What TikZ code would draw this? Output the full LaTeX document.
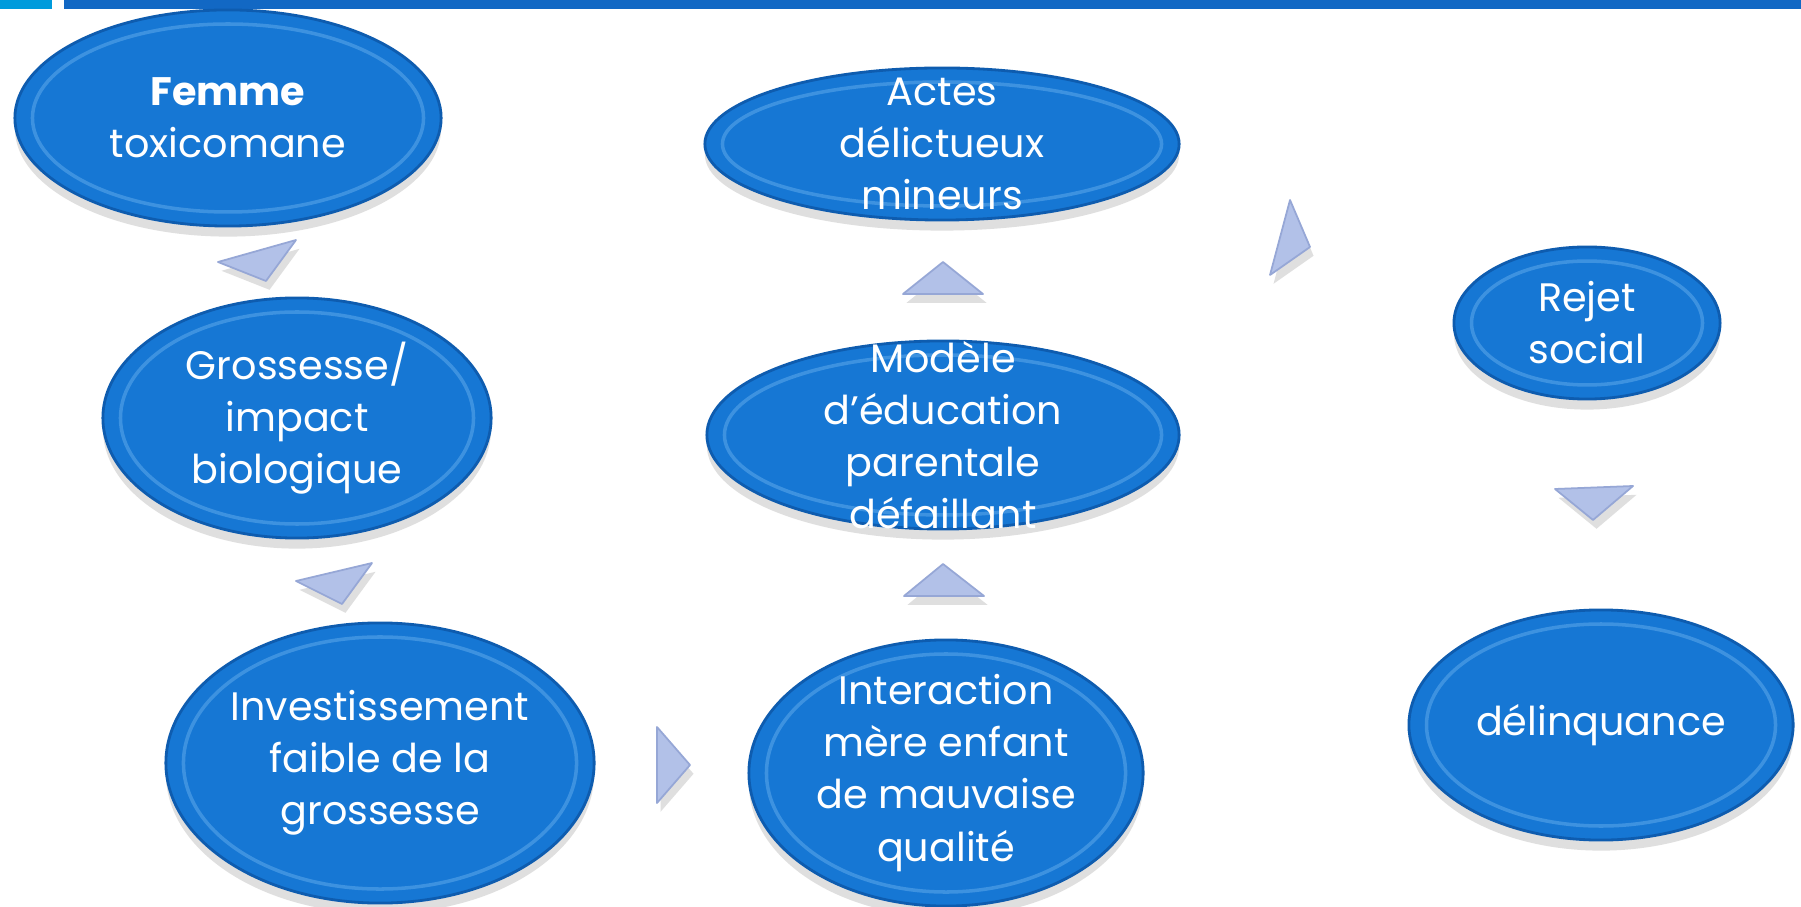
\documentclass[tikz,border=0pt]{standalone}
\usepackage{fontspec}
\setmainfont{Poppins}
\usetikzlibrary{shapes.geometric,shadows,calc}
\definecolor{bleuBulle}{RGB}{22,119,212}
\definecolor{bordBulle}{RGB}{14,92,175}
\definecolor{refletBulle}{RGB}{110,180,240}
\definecolor{bleuFleche}{RGB}{178,193,232}
\definecolor{bordFleche}{RGB}{150,167,214}
\definecolor{barreClaire}{RGB}{0,155,220}
\definecolor{barreFoncee}{RGB}{18,104,196}
\tikzset{
	bulle/.style={ellipse,fill=bleuBulle,draw=bordBulle,line width=0.8pt,inner sep=0pt,
		drop shadow={shadow xshift=0pt,shadow yshift=-3pt,opacity=0.25},
		path picture={\draw[refletBulle,line width=1pt,opacity=0.45]
			let \p1=($(path picture bounding box.north east)-(path picture bounding box.center)$) in
			(path picture bounding box.center) ellipse [x radius=\x1-5pt,y radius=\y1-4pt];}},
	texte/.style={text=white,align=center,font=\fontsize{11.3pt}{14.8pt}\selectfont},
	fleche/.style={fill=bleuFleche,draw=bordFleche,line width=0.5pt,line join=round,
		drop shadow={shadow xshift=1pt,shadow yshift=-2.5pt,opacity=0.25}}
}
\begin{document}
\begin{tikzpicture}[x=0.01cm,y=-0.01cm]
			\useasboundingbox[fill=white] (0,0) rectangle (1801,907);
			% barre du haut
			\fill[barreClaire] (0,0) rectangle (52,9);
			\fill[barreFoncee] (64,0) rectangle (1801,9);
			% bulles
			\node[bulle,minimum width=4.26cm,minimum height=2.16cm] (femme) at (228,118) {};
			\node[bulle,minimum width=3.88cm,minimum height=2.40cm] (grossesse) at (297,418) {};
			\node[bulle,minimum width=4.28cm,minimum height=2.80cm] (investissement) at (380,763) {};
			\node[bulle,minimum width=3.94cm,minimum height=2.66cm] (interaction) at (946,773) {};
			\node[bulle,minimum width=4.72cm,minimum height=1.88cm] (modele) at (943,435) {};
			\node[bulle,minimum width=4.74cm,minimum height=1.52cm] (actes) at (942,144) {};
			\node[bulle,minimum width=2.66cm,minimum height=1.52cm] (rejet) at (1587,323) {};
			\node[bulle,minimum width=3.84cm,minimum height=2.30cm] (delinquance) at (1601,725) {};
			% textes
			\node[texte] (femmeT) at (femme) {\textbf{Femme}\\toxicomane};
			\node[texte] (grossesseT) at (grossesse) {Grossesse/\\impact\\biologique};
			\node[texte] (investissementT) at (investissement) {Investissement\\faible de la\\grossesse};
			\node[texte] (interactionT) at (interaction) {Interaction\\mère enfant\\de mauvaise\\qualité};
			\node[texte] (modeleT) at (modele) {Modèle\\d’éducation\\parentale\\défaillant};
			\node[texte] (actesT) at (actes) {Actes\\délictueux\\mineurs};
			\node[texte] (rejetT) at (rejet) {Rejet\\social};
			\node[texte] (delinquanceT) at (delinquance) {délinquance};
			% fleches
			\draw[fleche] (218,262) -- (296,240) -- (266,281) -- cycle;
			\draw[fleche] (296,581) -- (372,563) -- (342,604) -- cycle;
			\draw[fleche] (657,727) -- (690,765) -- (657,803) -- cycle;
			\draw[fleche] (904,596) -- (943,564) -- (984,596) -- cycle;
			\draw[fleche] (903,294) -- (943,262) -- (983,294) -- cycle;
			\draw[fleche] (1290,200) -- (1310,247) -- (1270,275) -- cycle;
			\draw[fleche] (1555,489) -- (1633,486) -- (1593,520) -- cycle;
		\end{tikzpicture}
\end{document}
